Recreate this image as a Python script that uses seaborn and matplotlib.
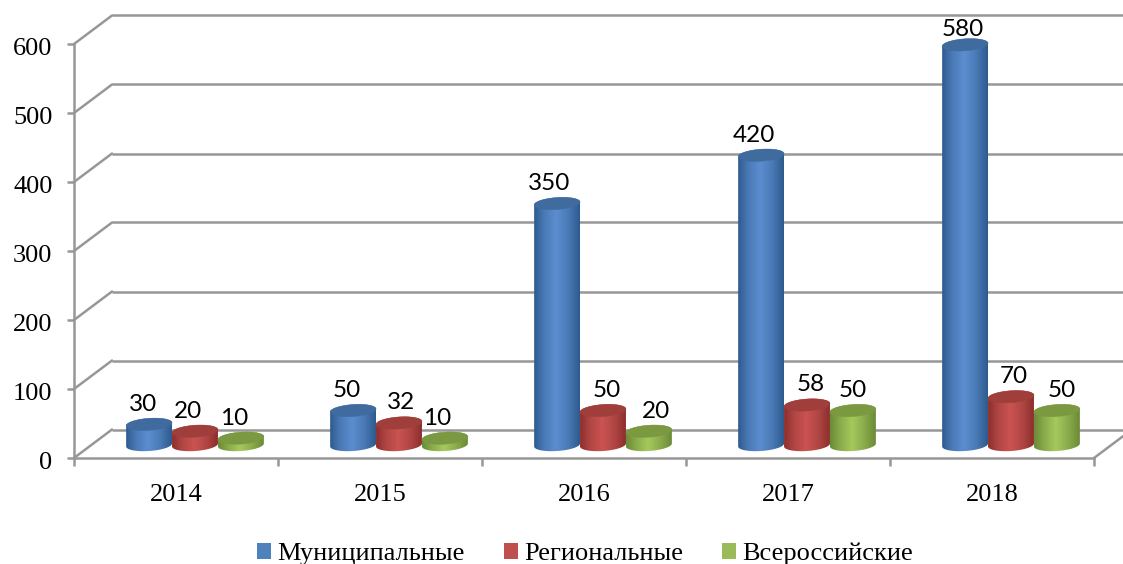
import numpy as np
import pandas as pd
import matplotlib
matplotlib.use("Agg")
import matplotlib.pyplot as plt
from matplotlib.colors import LinearSegmentedColormap
from matplotlib.patches import ConnectionPatch, Patch, Polygon
from matplotlib.transforms import ScaledTranslation
import seaborn as sns

# ── Data ─────────────────────────────────────────────────────────────────────
years = ["2014", "2015", "2016", "2017", "2018"]
municipal = [30, 50, 350, 420, 580]
regional = [20, 32, 50, 58, 70]
national = [10, 10, 20, 50, 50]
series_names = ["Муниципальные", "Региональные", "Всероссийские"]
y_ticks = [0, 100, 200, 300, 400, 500, 600]

# label nudges in pixels, same order as the bars
label_dx = [-6, -6, -8, -7, -2, -7, 2, 4, 4, 3, -7, -8, 7, 0, 5]
label_dy = [20, 20, 20, 20, 15, 20, 20, 20, 20, 20, 20, 20, 20, 20, 20]

# ── Style ────────────────────────────────────────────────────────────────────
sns.set_theme(style="white")
plt.rcParams["font.family"] = ["Liberation Serif", "DejaVu Serif"]

W, H = 1123, 564
LEFT, RIGHT, BOTTOM, TOP = 74, 1094, 458, 44
PX_PER_UNIT = (BOTTOM - TOP) / 600
GREY = "#979797"
LW = 1.8
FLAT = ["#4f81bd", "#c0504d", "#9bbb59"]
SIDE = [("#2e5a8e", "#4a7ab5", "#5c8dd0"), ("#8c2f2d", "#b04644", "#cb5351"), ("#6a8a36", "#8aab4c", "#a6c95c")]
TOPS = ["#3f6b9f", "#a03e3b", "#7a9941"]
ELL_B = 6.0   # half height of the cylinder ends, px
ELL_TILT = 1.5


def make_axes(fig, dx=0, dy=0, ymin=0):
    # axes box given in pixels of the picture, shifted for the fake depth
    low = BOTTOM + dy - ymin * PX_PER_UNIT
    pos = [(LEFT + dx) / W, 1 - low / H, (RIGHT - LEFT) / W, (low - TOP - dy) / H]
    ax = fig.add_axes(pos, facecolor="none")
    ax.set_xlim(-0.5, len(years) - 0.5)
    ax.set_ylim(ymin, 600)
    return ax


def draw_cylinder(ax, bar, side, top):
    x0, w, h = bar.get_x(), bar.get_width(), bar.get_height()
    cx = x0 + w / 2
    b, tilt = ELL_B / PX_PER_UNIT, ELL_TILT / PX_PER_UNIT
    t = np.linspace(0, 2 * np.pi, 120)
    low = np.linspace(np.pi, 2 * np.pi, 60)
    up = np.linspace(0, np.pi, 60)
    outline = np.vstack([
        np.c_[cx + w / 2 * np.cos(low), b * np.sin(low) + tilt * np.cos(low)],
        np.c_[cx + w / 2 * np.cos(up), h + b * np.sin(up) + tilt * np.cos(up)],
    ])
    body = Polygon(outline, closed=True, facecolor="none", edgecolor="none", transform=ax.transData)
    ax.add_patch(body)
    cmap = LinearSegmentedColormap.from_list(
        "cyl", [(0, side[0]), (0.22, side[1]), (0.48, side[2]), (0.75, side[1]), (1, side[0])])
    grad = np.linspace(0, 1, 128)[None, :]
    im = ax.imshow(grad, extent=(x0, x0 + w, -b * 2, h + b * 2), aspect="auto", cmap=cmap,
                   origin="lower", interpolation="bilinear")
    im.set_clip_path(body)
    ax.add_patch(Polygon(np.c_[cx + w / 2 * np.cos(t), h + b * np.sin(t) + tilt * np.cos(t)],
                         closed=True, facecolor=top, edgecolor=top, linewidth=0.3))


fig = plt.figure(figsize=(W / 100, H / 100), dpi=100, facecolor="white")

# ── Back wall ────────────────────────────────────────────────────────────────
ax_back = make_axes(fig, 38, -28.5)
ax_back.axis("off")
ax_back.hlines(y_ticks, -0.5, len(years) - 0.5, color=GREY, linewidth=LW, clip_on=False)

# ── Front axes ───────────────────────────────────────────────────────────────
ax = make_axes(fig)
sns.despine(ax=ax)
for side in ["left", "bottom"]:
    ax.spines[side].set_color(GREY)
    ax.spines[side].set_linewidth(LW)
ax.set_yticks(y_ticks)
ax.set_xticks(np.arange(len(years) + 1) - 0.5)
ax.set_xticklabels([])
ax.set_xticks(np.arange(len(years)), labels=years, minor=True)
ax.tick_params(axis="y", left=True, length=5, width=LW, color=GREY, labelsize=19, pad=10.5, labelcolor="black")
ax.tick_params(axis="x", which="major", bottom=True, length=6, width=LW, color=GREY)
ax.tick_params(axis="x", which="minor", bottom=False, length=0, labelsize=19, pad=19, labelcolor="black")
for lab in ax.get_yticklabels():
    lab.set_transform(lab.get_transform() + ScaledTranslation(0, -2.5 / 100, fig.dpi_scale_trans))

for v in y_ticks:
    fig.add_artist(ConnectionPatch((-0.5, v), (-0.5, v), coordsA=ax.transData, coordsB=ax_back.transData,
                                   color=GREY, linewidth=LW, shrinkA=0, shrinkB=0))
fig.add_artist(ConnectionPatch((4.5, 0), (4.5, 0), coordsA=ax.transData, coordsB=ax_back.transData,
                               color=GREY, linewidth=LW, shrinkA=0, shrinkB=0))

# ── Bars ─────────────────────────────────────────────────────────────────────
df = pd.DataFrame({"year": years, series_names[0]: municipal, series_names[1]: regional, series_names[2]: national})
long_df = df.melt(id_vars="year", var_name="kind", value_name="value")

ax_bars = make_axes(fig, 19, -13, ymin=-40)
sns.barplot(data=long_df, x="year", y="value", hue="kind", palette=FLAT, width=0.675, gap=0,
            legend=False, ax=ax_bars)
ax_bars.axis("off")

bars = list(ax_bars.patches)
for i, bar in enumerate(bars):
    k = i // len(years)
    bar.set_visible(False)
    draw_cylinder(ax_bars, bar, SIDE[k], TOPS[k])
    ax_bars.annotate(f"{bar.get_height():.0f}", (bar.get_x() + bar.get_width() / 2, bar.get_height()),
                     xytext=(label_dx[i], label_dy[i]), textcoords="offset pixels",
                     ha="center", va="center", fontsize=17.5, family="Lato", color="black", annotation_clip=False)
ax_bars.set_xlim(-0.5, len(years) - 0.5)
ax_bars.set_ylim(-40, 600)

# ── Legend ───────────────────────────────────────────────────────────────────
handles = [Patch(facecolor=c, edgecolor="none", label=n) for c, n in zip(FLAT, series_names)]
fig.legend(handles=handles, loc="center", bbox_to_anchor=(585 / W, 1 - 554 / H), ncols=3, frameon=False,
           fontsize=19, handlelength=0.53, handleheight=0.53, handletextpad=0.23, columnspacing=1.5,
           labelcolor="black")

fig.savefig("out.png", dpi=100)
